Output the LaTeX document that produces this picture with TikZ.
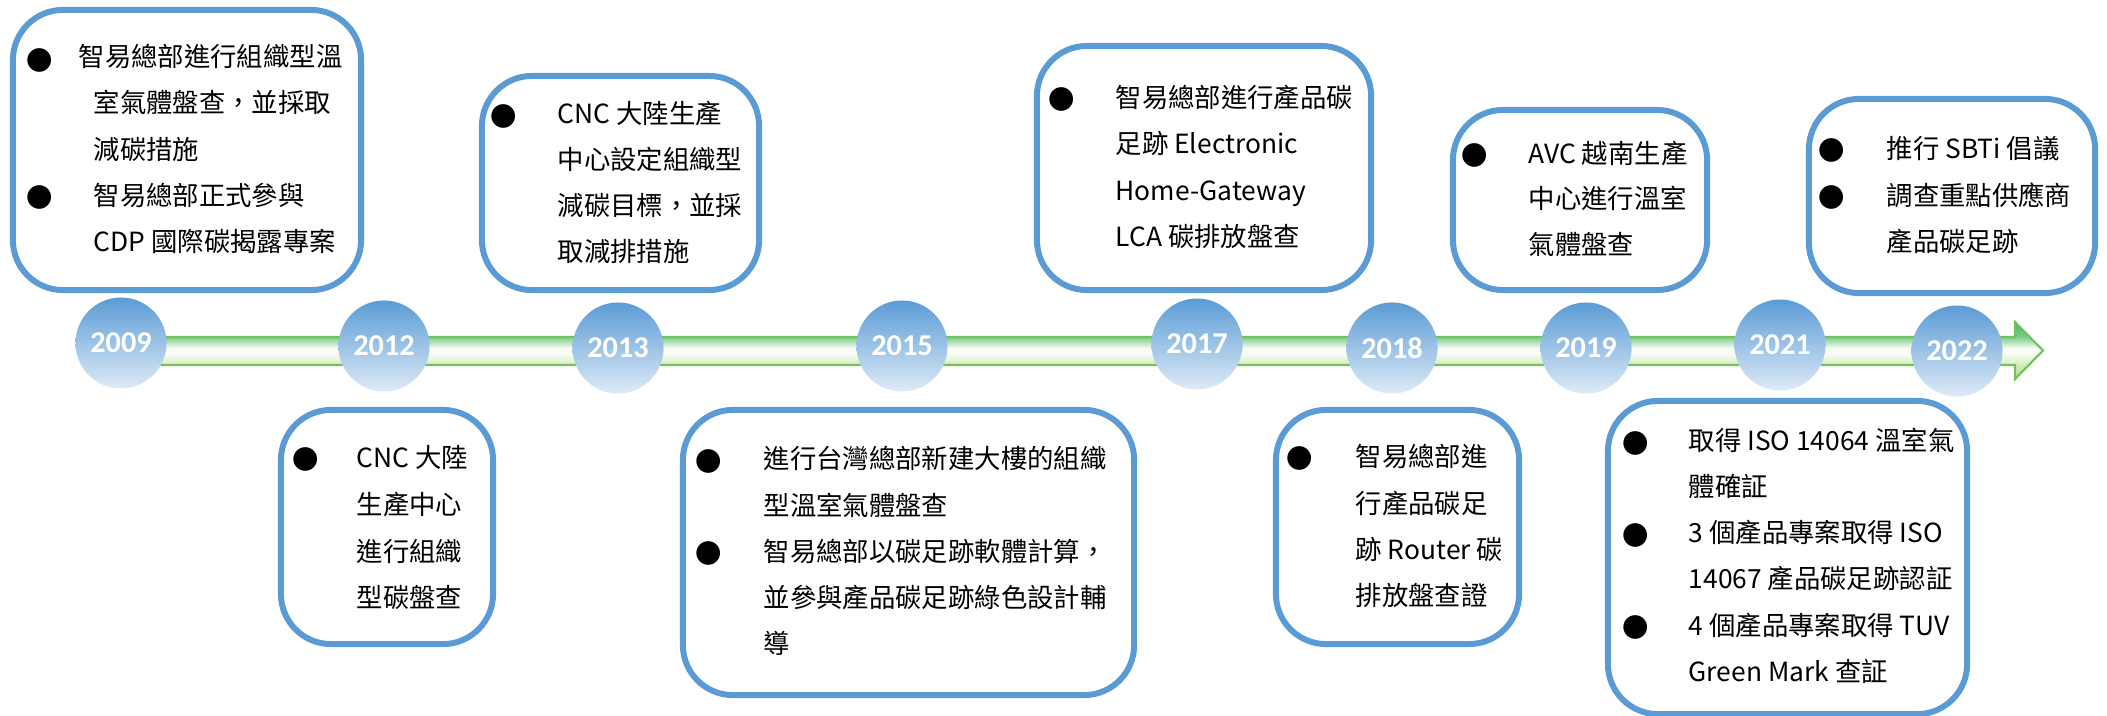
\documentclass[tikz,border=0pt]{standalone}
\usepackage{fontspec}
\newfontfamily\cjkfont{Noto Sans CJK TC}
\newfontfamily\yearfont{Carlito}[BoldFont={* Bold}]
\definecolor{cardblue}{RGB}{91,155,213}
\definecolor{yeartop}{RGB}{91,155,213}
\definecolor{yearbot}{RGB}{222,235,247}
\definecolor{headtop}{RGB}{70,180,95}
\definecolor{bartop}{RGB}{120,205,140}
\definecolor{barmid}{RGB}{248,252,245}
\definecolor{barbot}{RGB}{212,236,182}
\definecolor{headbot}{RGB}{175,218,125}
\definecolor{barline}{RGB}{120,190,95}
\pgfdeclareverticalshading{barshade}{100bp}{color(0bp)=(headbot); color(25bp)=(headbot);
  color(37bp)=(barbot); color(47bp)=(barmid); color(52bp)=(barmid); color(62bp)=(bartop);
  color(75bp)=(headtop); color(100bp)=(headtop)}
\tikzset{
  card/.style={draw=cardblue,line width=1.7pt,rounded corners=0.5cm,shape=rectangle,inner sep=0pt},
  yr/.style={shape=circle,minimum size=0.91cm,inner sep=0pt,top color=yeartop,bottom color=yearbot,
    text=white,font=\yearfont\bfseries\fontsize{8.6}{10}\selectfont},
  ln/.style={anchor=base west,inner sep=0pt,font=\cjkfont\fontsize{7.5}{9}\selectfont},
  dot/.style={inner sep=0pt,font=\cjkfont\fontsize{7.5}{9}\selectfont}
}
\begin{document}
\begin{tikzpicture}[x=0.01cm,y=-0.01cm]
        \useasboundingbox (0,0) rectangle (2107,715);
        % timeline arrow
        \draw[barline,line width=0.6pt,shading=barshade]
            (121,337) -- (2015,337) -- (2015,322) -- (2043,350.5) -- (2015,379) -- (2015,365) -- (121,365) -- cycle;
        % years
        \node[yr] (y2009) at (121,343) {2009};
        \node[yr] (y2012) at (384,346) {2012};
        \node[yr] (y2013) at (618,348) {2013};
        \node[yr] (y2015) at (902,346) {2015};
        \node[yr] (y2017) at (1197,344) {2017};
        \node[yr] (y2018) at (1392,348) {2018};
        \node[yr] (y2019) at (1586,348) {2019};
        \node[yr] (y2021) at (1780,345) {2021};
        \node[yr] (y2022) at (1957,351) {2022};
        % cards above
        \node[card,minimum width=3.48cm,minimum height=2.80cm] (c2009) at (187,150) {};
        \node[card,minimum width=2.77cm,minimum height=2.14cm] (c2013) at (620.5,183) {};
        \node[card,minimum width=3.34cm,minimum height=2.44cm] (c2017) at (1204,168) {};
        \node[card,minimum width=2.54cm,minimum height=1.80cm] (c2019) at (1580,200) {};
        \node[card,minimum width=2.86cm,minimum height=1.94cm] (c2021a) at (1952,196) {};
        % cards below
        \node[card,minimum width=2.12cm,minimum height=2.34cm] (c2012) at (387,527) {};
        \node[card,minimum width=4.51cm,minimum height=2.85cm] (c2015) at (908.5,552.5) {};
        \node[card,minimum width=2.43cm,minimum height=2.34cm] (c2018) at (1397.5,527) {};
        \node[card,minimum width=3.59cm,minimum height=3.13cm] (c2021b) at (1787.5,557.5) {};
        % 2009
        \node[dot] (d2009a) at (40,60) {●};
        \node[ln] (t2009a) at (78,67) {智易總部進行組織型溫};
        \node[ln] (t2009b) at (93,112) {室氣體盤查，並採取};
        \node[ln] (t2009c) at (93,159) {減碳措施};
        \node[dot] (d2009b) at (40,197) {●};
        \node[ln] (t2009d) at (93,205) {智易總部正式參與};
        \node[ln] (t2009e) at (93,251) {CDP 國際碳揭露專案};
        % 2013
        \node[dot] (d2013) at (504,116) {●};
        \node[ln] (t2013a) at (557,123) {CNC 大陸生產};
        \node[ln] (t2013b) at (557,169) {中心設定組織型};
        \node[ln] (t2013c) at (557,215) {減碳目標，並採};
        \node[ln] (t2013d) at (557,261) {取減排措施};
        % 2017
        \node[dot] (d2017) at (1062,99) {●};
        \node[ln] (t2017a) at (1115,107) {智易總部進行產品碳};
        \node[ln] (t2017b) at (1115,153) {足跡 Electronic};
        \node[ln] (t2017c) at (1115,200) {Home-Gateway};
        \node[ln] (t2017d) at (1115,246) {LCA 碳排放盤查};
        % 2019
        \node[dot] (d2019) at (1475,155) {●};
        \node[ln] (t2019a) at (1528,163) {AVC 越南生產};
        \node[ln] (t2019b) at (1528,208) {中心進行溫室};
        \node[ln] (t2019c) at (1528,254) {氣體盤查};
        % 2021 top
        \node[dot] (d2021a) at (1832,150) {●};
        \node[ln] (t2021a) at (1886,158) {推行 SBTi 倡議};
        \node[dot] (d2021b) at (1832,197) {●};
        \node[ln] (t2021b) at (1886,205) {調查重點供應商};
        \node[ln] (t2021c) at (1886,251) {產品碳足跡};
        % 2012
        \node[dot] (d2012) at (306,459) {●};
        \node[ln] (t2012a) at (356,467) {CNC 大陸};
        \node[ln] (t2012b) at (356,514) {生產中心};
        \node[ln] (t2012c) at (356,561) {進行組織};
        \node[ln] (t2012d) at (356,607) {型碳盤查};
        % 2015
        \node[dot] (d2015a) at (709,461) {●};
        \node[ln] (t2015a) at (763,468) {進行台灣總部新建大樓的組織};
        \node[ln] (t2015b) at (763,515) {型溫室氣體盤查};
        \node[dot] (d2015b) at (709,553) {●};
        \node[ln] (t2015c) at (763,561) {智易總部以碳足跡軟體計算，};
        \node[ln] (t2015d) at (763,607) {並參與產品碳足跡綠色設計輔};
        \node[ln] (t2015e) at (763,653) {導};
        % 2018
        \node[dot] (d2018) at (1300,458) {●};
        \node[ln] (t2018a) at (1355,466) {智易總部進};
        \node[ln] (t2018b) at (1355,513) {行產品碳足};
        \node[ln] (t2018c) at (1355,559) {跡 Router 碳};
        \node[ln] (t2018d) at (1355,605) {排放盤查證};
        % 2021 bottom
        \node[dot] (d2021c) at (1636,443) {●};
        \node[ln] (t2021d) at (1688,450) {取得 ISO 14064 溫室氣};
        \node[ln] (t2021e) at (1688,496) {體確証};
        \node[dot] (d2021d) at (1636,535) {●};
        \node[ln] (t2021f) at (1688,542) {3 個產品專案取得 ISO};
        \node[ln] (t2021g) at (1688,588) {14067 產品碳足跡認証};
        \node[dot] (d2021e) at (1636,627) {●};
        \node[ln] (t2021h) at (1688,635) {4 個產品專案取得 TUV};
        \node[ln] (t2021i) at (1688,681) {Green Mark 查証};
    \end{tikzpicture}
\end{document}
